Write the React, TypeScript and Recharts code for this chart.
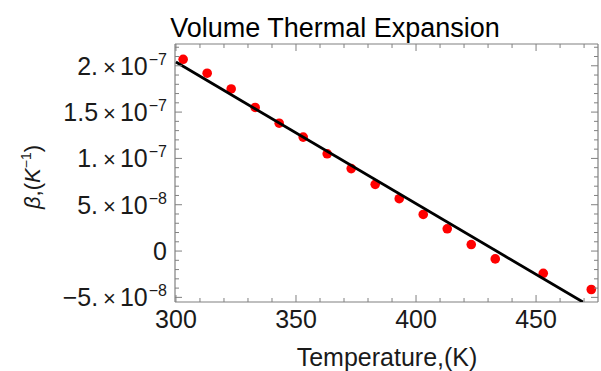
import React from "react";
import { ComposedChart, Scatter, XAxis, YAxis } from "recharts";

// Data (beta in units of 1e-8 K^-1)
const temps = [303, 313, 323, 333, 343, 353, 363, 373, 383, 393, 403, 413, 423, 433, 453, 473];
const beta = [20.7, 19.2, 17.5, 15.5, 13.8, 12.3, 10.5, 8.9, 7.2, 5.65, 3.95, 2.4, 0.7, -0.85, -2.4, -4.15];
const fitTemps = [300, 469.5];
const fitBeta = [20.4, -5.5];

const xTicks = [300, 310, 320, 330, 340, 350, 360, 370, 380, 390, 400, 410, 420, 430, 440, 450, 460, 470];
const xMajor = [300, 350, 400, 450];
const yTicks = [-5, -4, -3, -2, -1, 0, 1, 2, 3, 4, 5, 6, 7, 8, 9, 10, 11, 12, 13, 14, 15, 16, 17, 18, 19, 20, 21, 22];
const yMajor = [-5, 0, 5, 10, 15, 20];
const yMantissa = ["\u22125.", "0", "5.", "1.", "1.5", "2."];
const yExponent = ["\u22128", "", "\u22128", "\u22127", "\u22127", "\u22127"];

const points = temps.map((t, i) => ({ t, b: beta[i] }));
const fit = fitTemps.map((t, i) => ({ t, b: fitBeta[i] }));

const FRAME = "#808080";
const TEXT = "#1a1a1a";
const FONT = "'Liberation Sans', Arial, sans-serif";
const MAJ = 7;
const MIN = 4;

const BottomTick = (props: any) => {
  const { x, y, payload } = props;
  const major = xMajor.includes(payload.value);
  return (
    <g>
      <line x1={x} x2={x} y1={y} y2={y - (major ? MAJ : MIN)} stroke={FRAME} strokeWidth={1} />
      {major && (
        <text x={x} y={y + 26} textAnchor="middle" fontFamily={FONT} fontSize={25} fill={TEXT}>
          {payload.value}
        </text>
      )}
    </g>
  );
};

const TopTick = (props: any) => {
  const { x, y, payload } = props;
  const major = xMajor.includes(payload.value);
  return <line x1={x} x2={x} y1={y} y2={y + (major ? MAJ : MIN)} stroke={FRAME} strokeWidth={1} />;
};

const LeftTick = (props: any) => {
  const { x, y, payload } = props;
  const idx = yMajor.indexOf(payload.value);
  const major = idx >= 0;
  return (
    <g>
      <line x1={x} x2={x + (major ? MAJ : MIN)} y1={y} y2={y} stroke={FRAME} strokeWidth={1} />
      {major && (
        <text x={x - 8} y={y + 9} textAnchor="end" fontFamily={FONT} fontSize={25} fill={TEXT}>
          <tspan>{yMantissa[idx]}</tspan>
          {yExponent[idx] && (
            <>
              <tspan fontSize={22} dx={5}>{"\u00d7"}</tspan>
              <tspan dx={4}>10</tspan>
              <tspan fontSize={16} dy={-10} dx={1}>{yExponent[idx]}</tspan>
            </>
          )}
        </text>
      )}
    </g>
  );
};

const RightTick = (props: any) => {
  const { x, y, payload } = props;
  const major = yMajor.includes(payload.value);
  return <line x1={x} x2={x - (major ? MAJ : MIN)} y1={y} y2={y} stroke={FRAME} strokeWidth={1} />;
};

const Dot = (props: any) => {
  const { cx, cy } = props;
  return <circle cx={cx} cy={cy} r={4.8} fill="#ff0000" />;
};

const NoDot = () => <g />;

const TitleLabel = () => (
  <text x={335} y={37} textAnchor="middle" fontFamily={FONT} fontSize={27} fill="#000">
    Volume Thermal Expansion
  </text>
);

const YLabel = () => (
  <text
    x={0}
    y={0}
    transform="translate(40,177) rotate(-90)"
    textAnchor="middle"
    fontFamily={FONT}
    fontSize={22}
    fill={TEXT}
  >
    <tspan fontStyle="italic">{"\u03b2"}</tspan>
    <tspan>,(</tspan>
    <tspan fontStyle="italic">K</tspan>
    <tspan fontSize={14} dy={-9}>{"\u22121"}</tspan>
    <tspan dy={9}>)</tspan>
  </text>
);

const XLabel = () => (
  <text x={387} y={366} textAnchor="middle" fontFamily={FONT} fontSize={25} fill={TEXT}>
    Temperature,(K)
  </text>
);

export default function App() {
  return (
    <div style={{ position: "absolute", left: 0, top: 0, width: 601, height: 371, background: "#fff" }}>
      <ComposedChart width={601} height={371} margin={{ top: 0, right: 0, bottom: 0, left: 0 }}>
        <XAxis
          xAxisId={0}
          dataKey="t"
          type="number"
          domain={[299.6, 475.8]}
          allowDataOverflow
          ticks={xTicks}
          interval={0}
          height={69}
          tickSize={0}
          tickMargin={0}
          tickLine={false}
          axisLine={{ stroke: FRAME, strokeWidth: 1.2 }}
          tick={<BottomTick />}
          label={<XLabel />}
        />
        <XAxis
          xAxisId="top"
          orientation="top"
          dataKey="t"
          type="number"
          domain={[299.6, 475.8]}
          allowDataOverflow
          ticks={xTicks}
          interval={0}
          height={44}
          tickSize={0}
          tickMargin={0}
          tickLine={false}
          axisLine={{ stroke: FRAME, strokeWidth: 1.2 }}
          tick={<TopTick />}
          label={<TitleLabel />}
        />
        <YAxis
          yAxisId={0}
          dataKey="b"
          type="number"
          domain={[-5.5, 22.35]}
          allowDataOverflow
          ticks={yTicks}
          interval={0}
          width={175}
          tickSize={0}
          tickMargin={0}
          tickLine={false}
          axisLine={{ stroke: FRAME, strokeWidth: 1.2 }}
          tick={<LeftTick />}
          label={<YLabel />}
        />
        <YAxis
          yAxisId="right"
          orientation="right"
          dataKey="b"
          type="number"
          domain={[-5.5, 22.35]}
          allowDataOverflow
          ticks={yTicks}
          interval={0}
          width={3}
          tickSize={0}
          tickMargin={0}
          tickLine={false}
          axisLine={{ stroke: FRAME, strokeWidth: 1.2 }}
          tick={<RightTick />}
        />
        <Scatter data={points} dataKey="b" shape={<Dot />} isAnimationActive={false} />
        <Scatter
          data={fit}
          dataKey="b"
          shape={<NoDot />}
          line={{ stroke: "#000", strokeWidth: 2.8 }}
          isAnimationActive={false}
        />
      </ComposedChart>
    </div>
  );
}
